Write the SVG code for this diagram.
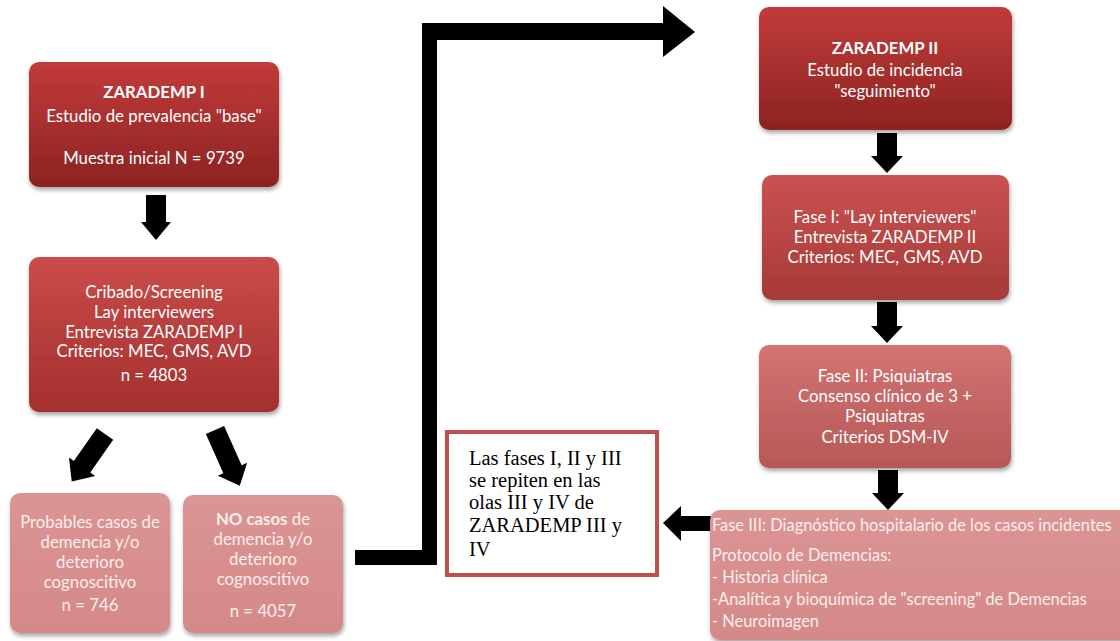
<svg xmlns="http://www.w3.org/2000/svg" width="1120" height="641" viewBox="0 0 1120 641">
<defs>
<linearGradient id="gDark" x1="0" y1="0" x2="0" y2="1"><stop offset="0" stop-color="#c23b3a"/><stop offset="1" stop-color="#8c2322"/></linearGradient>
<linearGradient id="gMid" x1="0" y1="0" x2="0" y2="1"><stop offset="0" stop-color="#ca4c4a"/><stop offset="1" stop-color="#a42f2e"/></linearGradient>
<linearGradient id="gMid2" x1="0" y1="0" x2="0" y2="1"><stop offset="0" stop-color="#ca5250"/><stop offset="1" stop-color="#a63a38"/></linearGradient>
<linearGradient id="gLight" x1="0" y1="0" x2="0" y2="1"><stop offset="0" stop-color="#d37473"/><stop offset="1" stop-color="#b55857"/></linearGradient>
<linearGradient id="gPale" x1="0" y1="0" x2="0" y2="1"><stop offset="0" stop-color="#db9594"/><stop offset="1" stop-color="#d48988"/></linearGradient>
<filter id="sh" x="-10%" y="-10%" width="120%" height="130%"><feDropShadow dx="1" dy="3" stdDeviation="2" flood-color="#000" flood-opacity="0.35"/></filter>
</defs>
<style>
.t{font-family:Lato,"Open Sans","Liberation Sans",sans-serif;font-size:16.8px;fill:#fff;text-anchor:middle}
.tp{fill:#fbeeee}
.b{font-weight:bold}
.l{text-anchor:start;font-size:16.4px}
.tm{font-family:"Liberation Serif","Times New Roman",serif;font-size:20.5px;fill:#000}
.arr{fill:#000}
</style>

<g id="connectors">
<polygon class="arr" points="146,195 166,195 166,222 171,222 156,240 141,222 146,222"/>
<polygon class="arr" transform="translate(105,434) rotate(35)" points="-10,0 10,0 10,40 16,40 0,58 -16,40 -10,40"/>
<polygon class="arr" transform="translate(215,430) rotate(-24)" points="-10,0 10,0 10,43 16,43 0,61 -16,43 -10,43"/>
<polygon class="arr" points="355,550 422,550 422,23 663,23 663,6 695,32 663,57 663,40 437,40 437,565 355,565"/>
<polygon class="arr" points="877,133 897,133 897,156 903,156 887,173 871,156 877,156"/>
<polygon class="arr" points="877,302 897,302 897,326 903,326 887,343 871,326 877,326"/>
<polygon class="arr" points="878,470 898,470 898,493 904,493 888,510 872,493 878,493"/>
<polygon class="arr" points="716,516 681,516 681,506 663,523 681,541 681,531 716,531"/>
</g>

<g id="n1">
<rect x="29" y="62" width="250" height="125" rx="10" fill="url(#gDark)" filter="url(#sh)"/>
<text class="t b" x="154" y="98">ZARADEMP I</text>
<text class="t" x="154" y="122">Estudio de prevalencia "base"</text>
<text class="t" x="154" y="164">Muestra inicial N = 9739</text>
</g>

<g id="n2">
<rect x="29" y="257" width="250" height="155" rx="10" fill="url(#gMid)" filter="url(#sh)"/>
<text class="t" x="154" y="298">Cribado/Screening</text>
<text class="t" x="154" y="318">Lay interviewers</text>
<text class="t" x="154" y="338">Entrevista ZARADEMP I</text>
<text class="t" x="154" y="357">Criterios: MEC, GMS, AVD</text>
<text class="t" x="154" y="381">n = 4803</text>
</g>

<g id="n3">
<rect x="10" y="493" width="160" height="140" rx="10" fill="url(#gPale)" filter="url(#sh)"/>
<text class="t tp" x="90" y="528">Probables casos de</text>
<text class="t tp" x="90" y="548">demencia y/o</text>
<text class="t tp" x="90" y="568">deterioro</text>
<text class="t tp" x="90" y="588">cognoscitivo</text>
<text class="t tp" x="90" y="611">n = 746</text>
</g>

<g id="n4">
<rect x="183" y="495" width="160" height="138" rx="10" fill="url(#gPale)" filter="url(#sh)"/>
<text class="t tp" x="263" y="525"><tspan class="b">NO casos</tspan> de</text>
<text class="t tp" x="263" y="545">demencia y/o</text>
<text class="t tp" x="263" y="565">deterioro</text>
<text class="t tp" x="263" y="585">cognoscitivo</text>
<text class="t tp" x="263" y="617">n = 4057</text>
</g>

<g id="n5">
<rect x="447" y="432" width="210" height="143" fill="#fff" stroke="#c0504d" stroke-width="4"/>
<text class="tm" x="469" y="465">Las fases I, II y III</text>
<text class="tm" x="469" y="487">se repiten en las</text>
<text class="tm" x="469" y="509">olas III y IV de</text>
<text class="tm" x="469" y="532">ZARADEMP III y</text>
<text class="tm" x="469" y="556">IV</text>
</g>

<g id="n6">
<rect x="759" y="7" width="253" height="123" rx="10" fill="url(#gDark)" filter="url(#sh)"/>
<text class="t b" x="885" y="54">ZARADEMP II</text>
<text class="t" x="885" y="76">Estudio de incidencia</text>
<text class="t" x="885" y="97">"seguimiento"</text>
</g>

<g id="n7">
<rect x="762" y="175" width="247" height="125" rx="10" fill="url(#gMid2)" filter="url(#sh)"/>
<text class="t" x="885" y="223">Fase I: "Lay interviewers"</text>
<text class="t" x="885" y="243">Entrevista ZARADEMP II</text>
<text class="t" x="885" y="263">Criterios: MEC, GMS, AVD</text>
</g>

<g id="n8">
<rect x="759" y="345" width="252" height="123" rx="10" fill="url(#gLight)" filter="url(#sh)"/>
<text class="t" x="885" y="382">Fase II: Psiquiatras</text>
<text class="t" x="885" y="402">Consenso clínico de 3 +</text>
<text class="t" x="885" y="422">Psiquiatras</text>
<text class="t" x="885" y="443">Criterios DSM-IV</text>
</g>

<g id="n9">
<rect x="710" y="510" width="420" height="130" rx="10" fill="url(#gPale)" filter="url(#sh)"/>
<text class="t tp l" x="712" y="531">Fase III: Diagnóstico hospitalario de los casos incidentes</text>
<text class="t tp l" x="712" y="561">Protocolo de Demencias:</text>
<text class="t tp l" x="712" y="583">- Historia clínica</text>
<text class="t tp l" x="712" y="605">-Analítica y bioquímica de "screening" de Demencias</text>
<text class="t tp l" x="712" y="627">- Neuroimagen</text>
</g>
</svg>
